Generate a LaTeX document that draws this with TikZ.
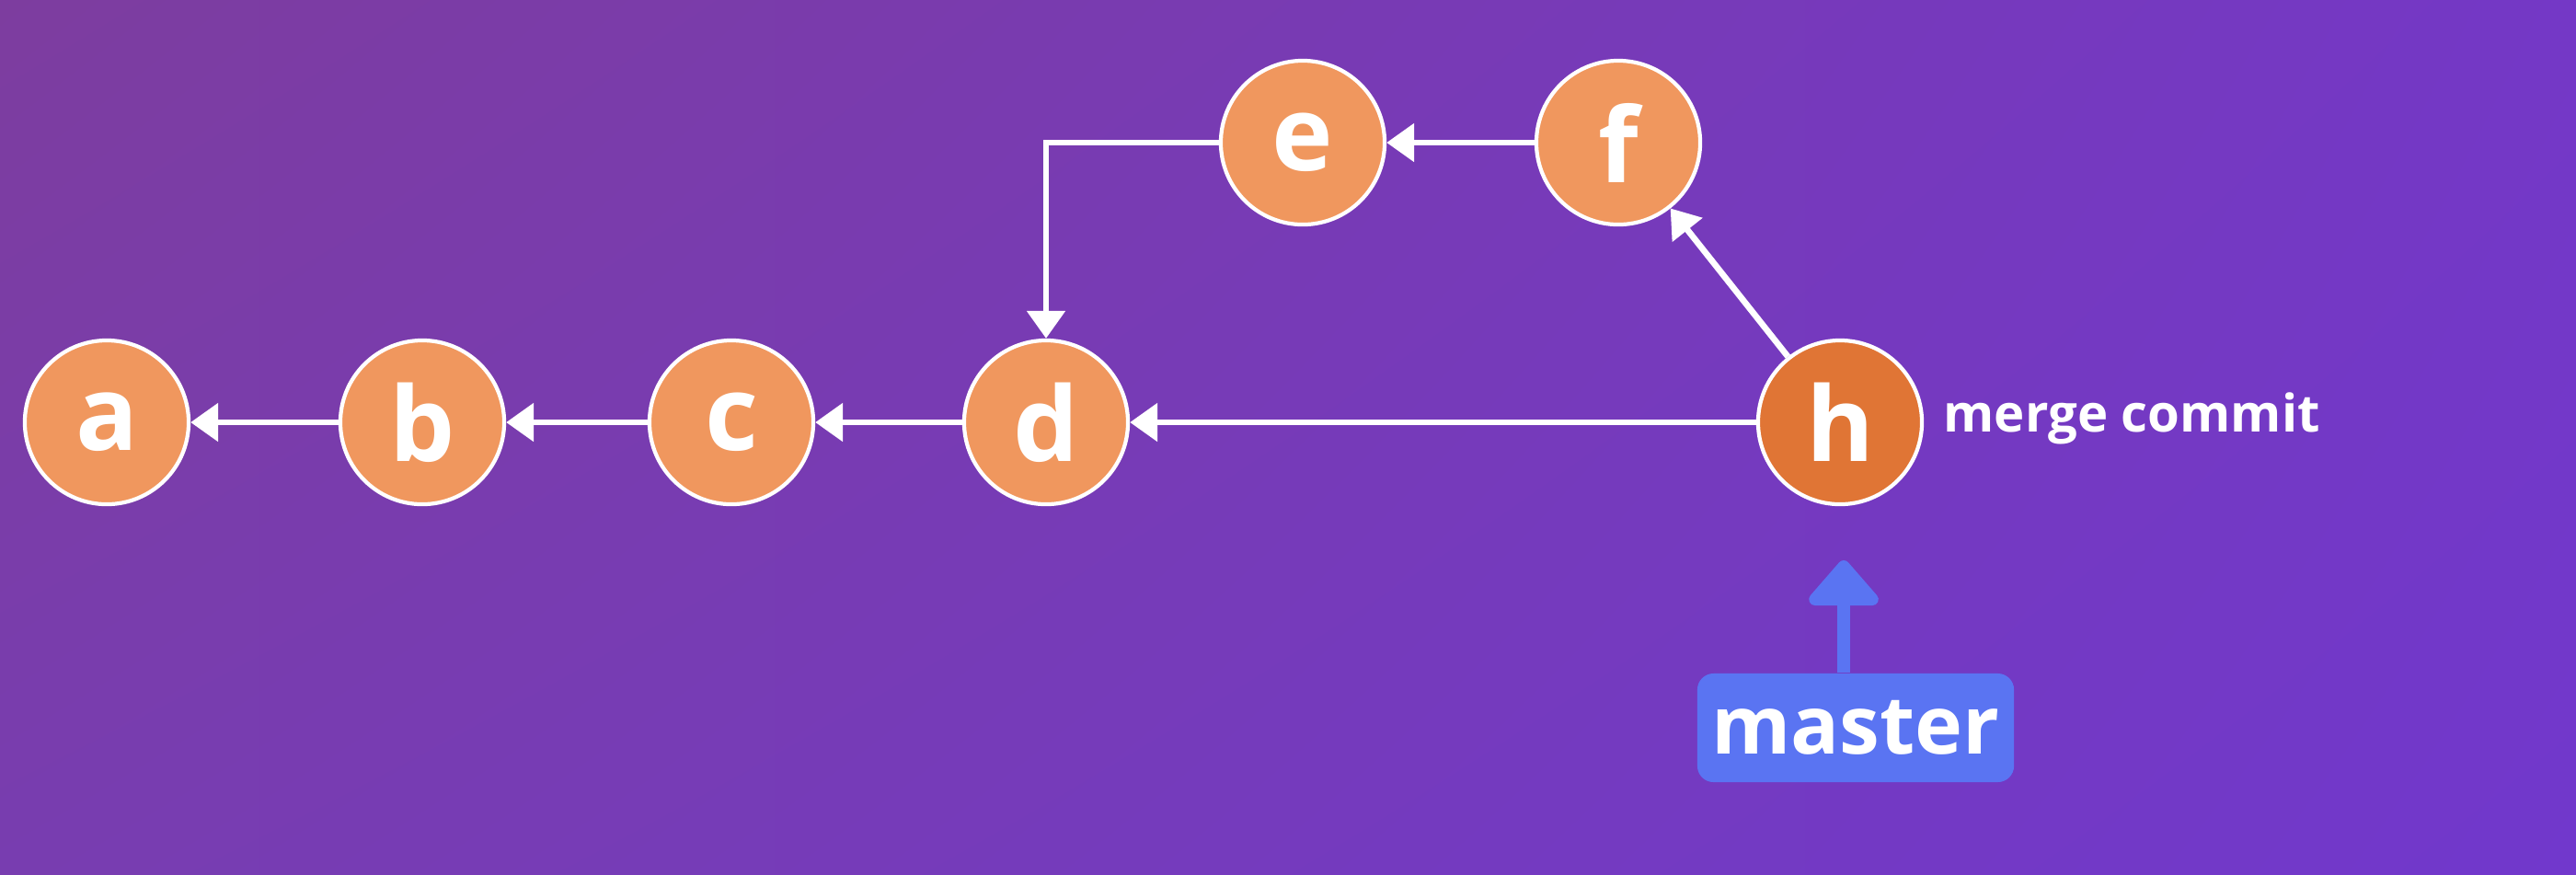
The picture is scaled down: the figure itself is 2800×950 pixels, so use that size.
\documentclass[tikz,border=0pt]{standalone}
\usepackage{fontspec}
\setmainfont{Open Sans}
\usetikzlibrary{arrows.meta,calc,shadings}
\definecolor{bgTL}{HTML}{7D3D9F}
\definecolor{bgTR}{HTML}{7438C6}
\definecolor{bgBL}{HTML}{783DB0}
\definecolor{bgBR}{HTML}{7138CC}
\definecolor{commitfill}{HTML}{F0975E}
\definecolor{mergefill}{HTML}{E07535}
\definecolor{branchblue}{HTML}{5A74F2}
\tikzset{
  commit/.style={circle,draw=white,line width=1.2pt,fill=commitfill,minimum size=1.78cm,inner sep=0pt,
    text=white,font=\fontsize{32}{32}\selectfont\bfseries},
  mergecommit/.style={commit,fill=mergefill},
  parent/.style={draw=white,line width=1.9pt,-{Triangle[length=8.5pt,width=11.5pt]}},
  branchlabel/.style={fill=branchblue,rounded corners=5pt,text=white,minimum width=3.44cm,minimum height=1.18cm,
    inner sep=0pt,font=\fontsize{25}{25}\selectfont\bfseries},
  branchptr/.style={draw=branchblue,line width=4pt,-{Triangle[length=15pt,width=25pt,round]}},
  note/.style={text=white,font=\fontsize{16}{16}\selectfont\bfseries,anchor=west,inner sep=0pt}
}
\begin{document}
\begin{tikzpicture}[x=0.01cm,y=-0.01cm]
\shade[upper left=bgTL,upper right=bgTR,lower left=bgBL,lower right=bgBR] (0,0) rectangle (2800,950);
\useasboundingbox (0,0) rectangle (2800,950);
\node[commit] (a) at (116,459) {a};
\node[commit] (b) at (459,459) {b};
\node[commit] (c) at (795,459) {c};
\node[commit] (d) at (1137,459) {d};
\node[commit] (e) at (1416,155) {e};
\node[commit] (f) at (1759,155) {f};
\node[mergecommit] (h) at (2000,459) {h};
\node[note] (mc) at (2112,455) {merge commit};
\node[branchlabel] (master) at (2017,791) {master};
\coordinate (tip) at (2004,609);
\draw[parent] (b) -- (a);
\draw[parent] (c) -- (b);
\draw[parent] (d) -- (c);
\draw[parent] (h) -- (d);
\draw[parent] (f) -- (e);
\draw[parent] (h) -- (f);
\draw[parent] (e.west) -| (d.north);
\draw[branchptr] (master.north -| tip) -- (tip);
\end{tikzpicture}
\end{document}
